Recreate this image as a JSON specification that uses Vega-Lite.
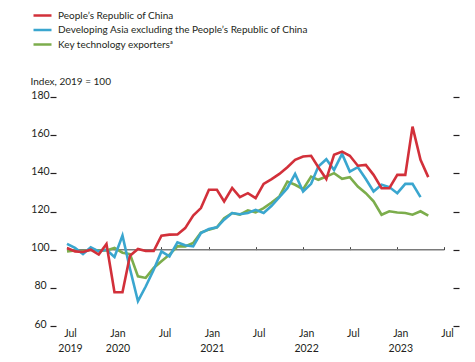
{
  "$schema": "https://vega.github.io/schema/vega-lite/v6.json",
  "width": 377,
  "height": 229,
  "autosize": {"type": "none"},
  "padding": {"left": 67, "top": 97, "right": 31, "bottom": 36},
  "background": "white",
  "config": {
    "font": "Lato",
    "view": {"stroke": null},
    "axis": {"labelFont": "Lato", "labelColor": "#231f20", "labelFontSize": 10.5, "grid": false}
  },
  "layer": [
    {
      "data": {"values": [{}]},
      "mark": {"type": "rule", "color": "#7a7a7a", "strokeWidth": 1.5},
      "encoding": {
        "y": {
          "datum": 100,
          "type": "quantitative",
          "scale": {"domain": [60, 180]},
          "axis": {"orient": "right", "values": [60, 80, 100, 120, 140, 160, 180], "labels": false, "domain": false, "ticks": true, "tickSize": 6, "tickWidth": 1.2, "tickColor": "#231f20", "offset": 9, "title": null}
        }
      }
    },
    {
      "data": {"values": [
        {"date": "2019-07-01", "China": 100.9, "Asia": 103.0, "Tech": 99.1},
        {"date": "2019-08-01", "China": 99.1, "Asia": 100.9, "Tech": 99.6},
        {"date": "2019-09-01", "China": 98.8, "Asia": 97.7, "Tech": 99.1},
        {"date": "2019-10-01", "China": 100.0, "Asia": 101.2, "Tech": 100.0},
        {"date": "2019-11-01", "China": 97.4, "Asia": 99.1, "Tech": 99.6},
        {"date": "2019-12-01", "China": 103.0, "Asia": 100.0, "Tech": 99.6},
        {"date": "2020-01-01", "China": 77.7, "Asia": 96.2, "Tech": 100.9},
        {"date": "2020-02-01", "China": 77.7, "Asia": 107.4, "Tech": 98.4},
        {"date": "2020-03-01", "China": 96.8, "Asia": 90.0, "Tech": 97.7},
        {"date": "2020-04-01", "China": 100.4, "Asia": 73.0, "Tech": 86.0},
        {"date": "2020-05-01", "China": 99.3, "Asia": 80.7, "Tech": 85.2},
        {"date": "2020-06-01", "China": 99.3, "Asia": 89.5, "Tech": 90.4},
        {"date": "2020-07-01", "China": 107.3, "Asia": 99.1, "Tech": 93.9},
        {"date": "2020-08-01", "China": 107.9, "Asia": 96.5, "Tech": 97.4},
        {"date": "2020-09-01", "China": 108.0, "Asia": 103.8, "Tech": 101.7},
        {"date": "2020-10-01", "China": 111.3, "Asia": 102.3, "Tech": 101.7},
        {"date": "2020-11-01", "China": 117.9, "Asia": 101.7, "Tech": 103.5},
        {"date": "2020-12-01", "China": 121.8, "Asia": 108.7, "Tech": 109.0},
        {"date": "2021-01-01", "China": 131.4, "Asia": 110.8, "Tech": 110.5},
        {"date": "2021-02-01", "China": 131.4, "Asia": 111.7, "Tech": 111.7},
        {"date": "2021-03-01", "China": 125.3, "Asia": 115.7, "Tech": 116.5},
        {"date": "2021-04-01", "China": 132.3, "Asia": 119.2, "Tech": 119.2},
        {"date": "2021-05-01", "China": 127.5, "Asia": 118.6, "Tech": 118.3},
        {"date": "2021-06-01", "China": 129.6, "Asia": 119.2, "Tech": 120.6},
        {"date": "2021-07-01", "China": 127.0, "Asia": 120.9, "Tech": 119.5},
        {"date": "2021-08-01", "China": 134.5, "Asia": 119.2, "Tech": 121.8},
        {"date": "2021-09-01", "China": 137.0, "Asia": 123.0, "Tech": 124.7},
        {"date": "2021-10-01", "China": 139.7, "Asia": 127.5, "Tech": 127.9},
        {"date": "2021-11-01", "China": 143.2, "Asia": 132.2, "Tech": 135.7},
        {"date": "2021-12-01", "China": 147.1, "Asia": 139.7, "Tech": 134.0},
        {"date": "2022-01-01", "China": 148.8, "Asia": 130.5, "Tech": 131.7},
        {"date": "2022-02-01", "China": 149.2, "Asia": 134.5, "Tech": 138.3},
        {"date": "2022-03-01", "China": 143.2, "Asia": 143.6, "Tech": 136.6},
        {"date": "2022-04-01", "China": 137.0, "Asia": 147.4, "Tech": 138.3},
        {"date": "2022-05-01", "China": 149.7, "Asia": 141.8, "Tech": 140.1},
        {"date": "2022-06-01", "China": 151.4, "Asia": 150.2, "Tech": 137.1},
        {"date": "2022-07-01", "China": 149.2, "Asia": 140.9, "Tech": 138.0},
        {"date": "2022-08-01", "China": 144.0, "Asia": 143.2, "Tech": 133.1},
        {"date": "2022-09-01", "China": 144.4, "Asia": 137.0, "Tech": 129.6},
        {"date": "2022-10-01", "China": 139.2, "Asia": 130.5, "Tech": 125.3},
        {"date": "2022-11-01", "China": 132.2, "Asia": 134.0, "Tech": 118.3},
        {"date": "2022-12-01", "China": 132.2, "Asia": 132.8, "Tech": 120.1},
        {"date": "2023-01-01", "China": 139.2, "Asia": 129.6, "Tech": 119.5},
        {"date": "2023-02-01", "China": 139.2, "Asia": 134.5, "Tech": 119.2},
        {"date": "2023-03-01", "China": 164.5, "Asia": 134.5, "Tech": 118.3},
        {"date": "2023-04-01", "China": 147.1, "Asia": 127.5, "Tech": 120.1},
        {"date": "2023-05-01", "China": 138.0, "Asia": null, "Tech": 117.8}
      ]},
      "transform": [{"fold": ["Tech", "Asia", "China"], "as": ["series", "value"]}],
      "mark": {"type": "line", "strokeWidth": 2.6},
      "encoding": {
        "x": {
          "field": "date",
          "type": "temporal",
          "scale": {"domain": [{"year": 2019, "month": 7, "date": 1}, {"year": 2023, "month": 7, "date": 1}]},
          "axis": {
            "orient": "bottom",
            "values": [
              {"year": 2019, "month": 7, "date": 1}, {"year": 2020, "month": 1, "date": 1},
              {"year": 2020, "month": 7, "date": 1}, {"year": 2021, "month": 1, "date": 1},
              {"year": 2021, "month": 7, "date": 1}, {"year": 2022, "month": 1, "date": 1},
              {"year": 2022, "month": 7, "date": 1}, {"year": 2023, "month": 1, "date": 1},
              {"year": 2023, "month": 7, "date": 1}
            ],
            "labelExpr": "month(datum.value) == 6 ? (year(datum.value) == 2019 ? ['Jul', '2019'] : 'Jul') : ['Jan', '' + year(datum.value)]",
            "offset": -76.33,
            "domain": false,
            "ticks": true,
            "tickSize": -3,
            "tickColor": "#444444",
            "tickWidth": 1,
            "labelPadding": 82,
            "labelBaseline": "top",
            "labelLineHeight": 15,
            "labelOffset": 3,
            "labelFlush": false,
            "title": null
          }
        },
        "y": {
          "field": "value",
          "type": "quantitative",
          "scale": {"domain": [60, 180]},
          "axis": {
            "orient": "left",
            "values": [60, 80, 100, 120, 140, 160, 180],
            "domain": false,
            "offset": 11,
            "tickSize": 6,
            "tickWidth": 1.2,
            "tickColor": "#231f20",
            "labelAlign": "center",
            "labelPadding": 10,
            "labelOffset": -2,
            "title": "Index, 2019 = 100",
            "titleAngle": 0,
            "titleAlign": "left",
            "titleBaseline": "middle",
            "titleX": -26,
            "titleY": -16,
            "titleFont": "Lato",
            "titleFontSize": 10,
            "titleFontWeight": "normal",
            "titleColor": "#231f20"
          }
        },
        "color": {
          "field": "series",
          "type": "nominal",
          "scale": {"domain": ["China", "Asia", "Tech"], "range": ["#d2303a", "#3aa6cf", "#7cad4c"]},
          "legend": {
            "orient": "none",
            "legendX": -33.5,
            "legendY": -90.5,
            "title": null,
            "symbolType": "M-1.2,0H1.2",
            "symbolSize": 225,
            "symbolStrokeWidth": 2.5,
            "rowPadding": 0.5,
            "labelOffset": 6.5,
            "labelFont": "Lato",
            "labelFontSize": 10,
            "labelColor": "#231f20",
            "labelLimit": 400,
            "labelExpr": "datum.value == 'China' ? 'People’s Republic of China' : datum.value == 'Asia' ? 'Developing Asia excluding the People’s Republic of China' : 'Key technology exportersᵃ'"
          }
        }
      }
    }
  ],
  "resolve": {"axis": {"y": "independent"}}
}
